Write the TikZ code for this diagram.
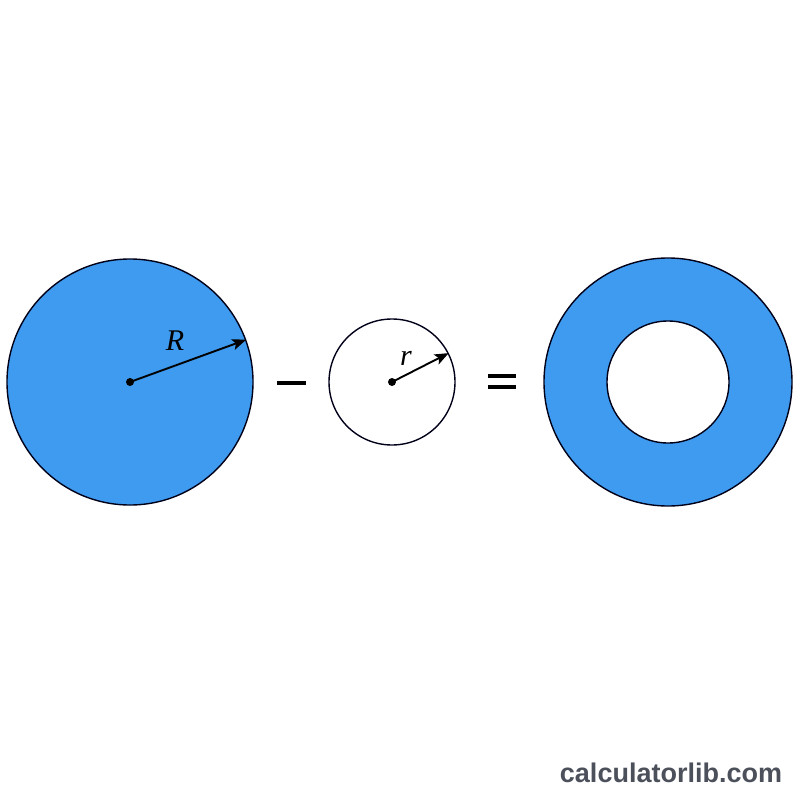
\documentclass[tikz,border=0pt]{standalone}
\usepackage{fontspec}
\newfontfamily\sitefont{Liberation Sans}
\newfontfamily\labelfont{Liberation Serif}
\usepackage{tikz}
\usetikzlibrary{arrows.meta}
\definecolor{ringblue}{HTML}{3F9BF0}
\definecolor{sitegray}{HTML}{4B505B}
\tikzset{
  disc/.style={circle, draw=black!90!blue, line width=1.4pt, inner sep=0pt},
  radius arrow/.style={line width=1.9pt, -{Stealth[length=14pt, width=11pt, inset=3pt]}},
  radius label/.style={font=\labelfont\itshape\fontsize{30}{30}\selectfont},
  opbar/.style={line width=4pt}
}

\begin{document}
\begin{tikzpicture}[x=1pt, y=-1pt]
  \useasboundingbox (0,0) rectangle (800,800);
  \fill[white] (0,0) rectangle (800,800);
  % big disc
  \node[disc, fill=ringblue, minimum size=246pt] (big) at (130,382) {};
  \fill (big.center) circle (4);
  \draw[radius arrow] (big.center) -- (big.20);
  \node[radius label] (R) at (175,341) {R};
  % minus
  \draw[opbar] (277,383) -- (306,383);
  % small disc
  \node[disc, fill=white, minimum size=126pt] (small) at (392,382) {};
  \fill (small.center) circle (4);
  \draw[radius arrow] (small.center) -- (small.27);
  \node[radius label] (r) at (406,358) {r};
  % equals
  \draw[opbar] (488,376) -- (516,376);
  \draw[opbar] (488,387) -- (516,387);
  % ring
  \node[disc, fill=ringblue, minimum size=248pt] (outer) at (668,382) {};
  \node[disc, fill=white, minimum size=122pt] (inner) at (668,382) {};
  % site name
  \node[text=sitegray] (site) at (671,773) {\sitefont\bfseries\fontsize{27}{27}\selectfont calculatorlib.com};
\end{tikzpicture}
\end{document}
